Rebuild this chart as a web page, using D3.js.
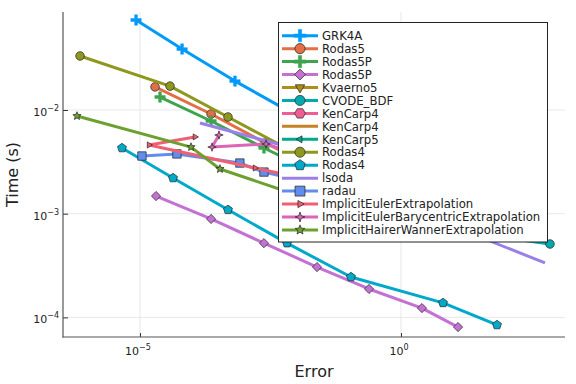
<!DOCTYPE html>
<html><head><meta charset="utf-8">
<script src="https://cdn.jsdelivr.net/npm/d3@7"></script>
<style>body{margin:0;background:#fff}svg{display:block}text{font-family:"DejaVu Sans",sans-serif}</style>
</head><body><svg id="c" width="576" height="384"></svg>
<script>
// ---- data (Error, Time) ----
const seriesNames = ["GRK4A","Rodas5","Rodas5P","Rodas5P","Kvaerno5","CVODE_BDF","KenCarp4","KenCarp4","KenCarp5","Rodas4","Rodas4","lsoda","radau","ImplicitEulerExtrapolation","ImplicitEulerBarycentricExtrapolation","ImplicitHairerWannerExtrapolation"];
const seriesColors = ["#009AFA","#E36F47","#3EA44E","#C371D2","#AC8E18","#00AAAE","#ED5E93","#C68225","#00A98D","#8E971E","#00A9C9","#9B7FE9","#618DEC","#F06073","#DD65B7","#6CA030"];
const seriesMarkers = ["cross","circle","cross","diamond","dtriangle","circle","hexagon","none","ltriangle","circle","pentagon","none","rect","rtriangle","star4","star5"];

const errGRK4A = [8.4e-6, 6.4e-5, 6.6e-4, 7.5e-3, 0.085];
const timeGRK4A = [0.0738, 0.0387, 0.0190, 0.0096, 0.0051];
const errRodas5 = [1.94e-5, 2.3e-4, 2.5e-3, 0.028, 0.32];
const timeRodas5 = [0.0167, 0.00915, 0.00481, 0.00264, 0.0015];
const errRodas5P = [2.42e-5, 2.3e-4, 2.37e-3, 0.028];
const timeRodas5P = [0.01334, 0.00783, 0.0043, 0.00236];
const errRodas5Pb = [2.03e-5, 2.3e-4, 2.37e-3, 0.0246, 0.244, 2.52, 12.4];
const timeRodas5Pb = [1.48e-3, 8.9e-4, 5.2e-4, 3.06e-4, 1.88e-4, 1.23e-4, 8.07e-5];
const errKvaerno5 = [0.0116, 0.164, 2.31];
const timeKvaerno5 = [8.0e-3, 4.11e-3, 2.11e-3];
const errCVODE = [0.105, 8.7, 715];
const timeCVODE = [1.36e-3, 6.97e-4, 5.1e-4];
const errKenCarp4 = [0.0116, 0.396, 13.5];
const timeKenCarp4 = [5.14e-3, 2.64e-3, 1.36e-3];
const errKenCarp4b = [0.0181, 0.616, 21];
const timeKenCarp4b = [4.6e-3, 2.36e-3, 1.21e-3];
const errKenCarp5 = [0.0145, 0.49, 16.8];
const timeKenCarp5 = [4.11e-3, 2.11e-3, 1.09e-3];
const errRodas4 = [7.1e-7, 3.76e-5, 4.85e-4, 7.5e-3];
const timeRodas4 = [0.0332, 0.0170, 8.56e-3, 4.1e-3];
const errRodas4b = [4.52e-6, 4.29e-5, 4.85e-4, 6.55e-3, 0.110, 6.38, 69];
const timeRodas4b = [4.3e-3, 2.21e-3, 1.09e-3, 5.2e-4, 2.45e-4, 1.38e-4, 8.45e-5];
const errLsoda = [1.41e-4, 0.0116, 0.957, 574];
const timeLsoda = [7.5e-3, 4.11e-3, 1.21e-3, 3.35e-4];
const errRadau = [1.09e-5, 5.1e-5, 8.2e-4, 2.37e-3, 0.028];
const timeRadau = [3.6e-3, 3.77e-3, 3.08e-3, 2.52e-3, 1.89e-3];
const errIEE = [1.13e-4, 1.49e-5, 1.6e-3, 0.028];
const timeIEE = [5.5e-3, 4.6e-3, 2.76e-3, 2.02e-3];
const errIEBE = [3.26e-4, 2.4e-4, 2.6e-3, 0.0436];
const timeIEBE = [5.74e-3, 4.39e-3, 4.7e-3, 2.95e-3];
const errIHW = [6.2e-7, 9.5e-5, 3.4e-4, 0.0116];
const timeIHW = [8.75e-3, 4.39e-3, 2.7e-3, 1.48e-3];

const seriesErr = [errGRK4A, errRodas5, errRodas5P, errRodas5Pb, errKvaerno5, errCVODE, errKenCarp4, errKenCarp4b, errKenCarp5, errRodas4, errRodas4b, errLsoda, errRadau, errIEE, errIEBE, errIHW];
const seriesTime = [timeGRK4A, timeRodas5, timeRodas5P, timeRodas5Pb, timeKvaerno5, timeCVODE, timeKenCarp4, timeKenCarp4b, timeKenCarp5, timeRodas4, timeRodas4b, timeLsoda, timeRadau, timeIEE, timeIEBE, timeIHW];

const xTickValues = [1e-5, 1];
const xTickExp = ["−5", "0"];
const yTickValues = [1e-4, 1e-3, 1e-2];
const yTickExp = ["−4", "−3", "−2"];
const xLabel = "Error";
const yLabel = "Time (s)";

// ---- layout ----
const svg = d3.select("#c");
const L = 63, R = 565, T = 12, B = 337;
const x = d3.scaleLog().domain([Math.pow(10,-6.475), Math.pow(10,3.142)]).range([L, R]);
const y = d3.scaleLog().domain([Math.pow(10,-4.189), Math.pow(10,-1.055)]).range([B, T]);

// grid
const g = svg.append("g");
g.selectAll(".gx").data(xTickValues).join("line")
  .attr("x1", d => x(d)).attr("x2", d => x(d)).attr("y1", T).attr("y2", B)
  .attr("stroke", "#e8e8e8").attr("stroke-width", 1);
g.selectAll(".gy").data(yTickValues).join("line")
  .attr("y1", d => y(d)).attr("y2", d => y(d)).attr("x1", L).attr("x2", R)
  .attr("stroke", "#e8e8e8").attr("stroke-width", 1);

// axes
const xAxis = d3.axisBottom(x).tickValues(xTickValues).tickSize(-4).tickFormat("");
const yAxis = d3.axisLeft(y).tickValues(yTickValues).tickSize(-5).tickFormat("");
const gx = svg.append("g").attr("transform", `translate(0,${B})`).call(xAxis);
const gy = svg.append("g").attr("transform", `translate(${L},0)`).call(yAxis);
[gx, gy].forEach(a => { a.select(".domain").remove(); a.selectAll("line").attr("stroke", "#333"); });
svg.append("line").attr("x1", L).attr("x2", L).attr("y1", T).attr("y2", B + 0.5).attr("stroke", "#555").attr("stroke-width", 1.2);
svg.append("line").attr("x1", L - 0.5).attr("x2", R).attr("y1", B).attr("y2", B).attr("stroke", "#555").attr("stroke-width", 1.2);

// tick labels
xTickValues.forEach((v, i) => {
  const t = svg.append("text").attr("x", x(v) - 2).attr("y", B + 18).attr("text-anchor", "middle")
    .attr("font-size", 11).attr("fill", "#222");
  t.append("tspan").text("10");
  t.append("tspan").attr("dy", -5).attr("font-size", 8).text(xTickExp[i]);
});
yTickValues.forEach((v, i) => {
  const t = svg.append("text").attr("x", L - 4).attr("y", y(v) + 6).attr("text-anchor", "end")
    .attr("font-size", 11).attr("fill", "#222");
  t.append("tspan").text("10");
  t.append("tspan").attr("dy", -5).attr("font-size", 8).text(yTickExp[i]);
});

svg.append("text").attr("x", (L + R) / 2).attr("y", 377).attr("text-anchor", "middle")
  .attr("font-size", 16).attr("fill", "#222").text(xLabel);
svg.append("text").attr("transform", `translate(18,${(T + B) / 2}) rotate(-90)`).attr("text-anchor", "middle")
  .attr("font-size", 16).attr("fill", "#222").text(yLabel);

// markers
function poly(pts) { return "M" + pts.map(p => p[0].toFixed(2) + "," + p[1].toFixed(2)).join("L") + "Z"; }
function regular(n, r, rot) {
  const pts = [];
  for (let k = 0; k < n; k++) { const a = rot + k * 2 * Math.PI / n; pts.push([r * Math.cos(a), r * Math.sin(a)]); }
  return poly(pts);
}
function star(n, ro, ri) {
  const pts = [];
  for (let k = 0; k < 2 * n; k++) { const a = -Math.PI / 2 + k * Math.PI / n; const r = k % 2 ? ri : ro; pts.push([r * Math.cos(a), r * Math.sin(a)]); }
  return poly(pts);
}
function markerPath(type, s) {
  switch (type) {
    case "circle": return d3.arc()({innerRadius: 0, outerRadius: 4.3 * s, startAngle: 0, endAngle: 2 * Math.PI});
    case "cross": { const a = 5.2 * s, b = 1.4 * s; return poly([[-b,-a],[b,-a],[b,-b],[a,-b],[a,b],[b,b],[b,a],[-b,a],[-b,b],[-a,b],[-a,-b],[-b,-b]]); }
    case "diamond": return regular(4, 4.6 * s, 0);
    case "dtriangle": return regular(3, 4.6 * s, Math.PI / 2);
    case "ltriangle": return regular(3, 3.4 * s, Math.PI);
    case "rtriangle": return regular(3, 3.5 * s, 0);
    case "hexagon": return regular(6, 4.6 * s, 0);
    case "pentagon": return regular(5, 4.7 * s, -Math.PI / 2);
    case "rect": return poly([[-4.2*s,-4.2*s],[4.2*s,-4.2*s],[4.2*s,4.2*s],[-4.2*s,4.2*s]]);
    case "star4": return star(4, 4.2 * s, 1.5 * s);
    case "star5": return star(5, 4.3 * s, 1.9 * s);
  }
  return null;
}

const line = d3.line().x(d => x(d[0])).y(d => y(d[1]));
const plot = svg.append("g");
seriesNames.forEach((name, i) => {
  const pts = seriesErr[i].map((e, k) => [e, seriesTime[i][k]]);
  const sg = plot.append("g");
  sg.append("path").attr("d", line(pts)).attr("fill", "none").attr("stroke", seriesColors[i])
    .attr("stroke-width", 3).attr("stroke-linejoin", "round");
  const mp = markerPath(seriesMarkers[i], 1);
  if (mp) {
    sg.selectAll("path.m").data(pts).join("path").attr("class", "m").attr("d", mp)
      .attr("transform", d => `translate(${x(d[0])},${y(d[1])})`)
      .attr("fill", seriesColors[i])
      .attr("stroke", seriesMarkers[i] === "cross" ? seriesColors[i] : "#222")
      .attr("stroke-width", seriesMarkers[i] === "cross" ? 0.5 : 0.7);
  }
});

// legend
const lg = svg.append("g");
lg.append("rect").attr("x", 278.5).attr("y", 22.5).attr("width", 269).attr("height", 219.5)
  .attr("fill", "#fff").attr("stroke", "#222").attr("stroke-width", 1);
seriesNames.forEach((name, i) => {
  const cy = 35.7 + i * 12.95;
  lg.append("line").attr("x1", 282).attr("x2", 318).attr("y1", cy).attr("y2", cy)
    .attr("stroke", seriesColors[i]).attr("stroke-width", 3);
  const mp = markerPath(seriesMarkers[i], 1.18);
  if (mp) lg.append("path").attr("d", mp).attr("transform", `translate(300,${cy})`)
    .attr("fill", seriesColors[i])
    .attr("stroke", seriesMarkers[i] === "cross" ? seriesColors[i] : "#222")
    .attr("stroke-width", seriesMarkers[i] === "cross" ? 0.5 : 0.7);
  lg.append("text").attr("x", 322).attr("y", cy).attr("dy", "0.36em").attr("font-size", 11.7)
    .attr("fill", "#222").text(name);
});
</script></body></html>
